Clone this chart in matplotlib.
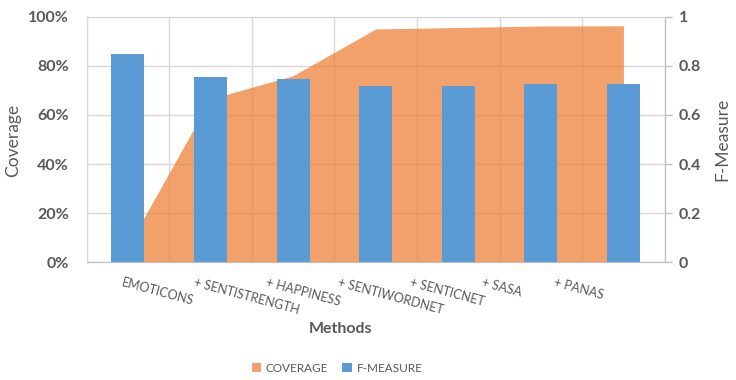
"""Coverage vs F-Measure of combined sentiment methods (area + column combo)."""

import matplotlib

matplotlib.use("Agg")
import matplotlib.pyplot as plt
import numpy as np
from matplotlib.patches import Patch

# values
METHODS = ["EMOTICONS", "+ SENTISTRENGTH", "+ HAPPINESS", "+ SENTIWORDNET",
           "+ SENTICNET", "+ SASA", "+ PANAS"]
COVERAGE = [6.5, 66.5, 76.0, 95.0, 95.6, 96.2, 96.3]
F_MEASURE = [0.848, 0.754, 0.746, 0.718, 0.718, 0.726, 0.726]

ORANGE = "#ED7D31"
BLUE = "#5B9BD5"
GRID = "#D9D9D9"
TEXT = "#595959"
FONT = ["Lato", "DejaVu Sans"]

plt.rcParams["font.family"] = FONT

fig = plt.figure(figsize=(7.36, 3.80), dpi=100)
ax = fig.add_axes([86.7 / 736, 1 - 262.3 / 380, (664.7 - 86.7) / 736, (262.3 - 16.7) / 380])
ax2 = ax.twinx()

x = np.arange(len(METHODS))

# coverage area on the primary axis, gridlines show faintly through it
ax.fill_between(x, COVERAGE, 0, color=ORANGE, alpha=0.72, linewidth=0, zorder=2)
ax.set_ylim(0, 100)
ax.set_xlim(-0.5, len(METHODS) - 0.5)
ax.set_yticks(np.arange(0, 101, 20))
ax.set_yticklabels([f"{v}%" for v in range(0, 101, 20)])
ax.set_axisbelow(True)
ax.grid(True, axis="both", color=GRID, linewidth=1.0, zorder=0)

# gridlines at category boundaries, labels shifted like the source chart
ax.set_xticks(np.arange(len(METHODS) + 1) - 0.5)
ax.set_xticklabels([])
ax.tick_params(axis="x", which="major", length=0)
label_pos = -0.05 + 0.872 * x
ax.set_xticks(label_pos, minor=True)
ax.set_xticklabels(METHODS, minor=True, rotation=-15, ha="left", va="top",
                   rotation_mode="anchor", fontsize=9, color=TEXT)
ax.tick_params(axis="x", which="minor", length=0, pad=10)
ax.tick_params(axis="y", length=0, pad=13, labelsize=11.5, labelcolor=TEXT)
for lab in ax.get_yticklabels():
    lab.set_fontweight("bold")

# F-measure columns on the secondary axis
ax2.bar(x, F_MEASURE, width=0.4, color=BLUE, zorder=3)
ax2.set_ylim(0, 1)
ax2.set_yticks(np.arange(0, 1.01, 0.2))
ax2.set_yticklabels(["0", "0.2", "0.4", "0.6", "0.8", "1"])
ax2.tick_params(axis="y", length=5, width=1, color="#BFBFBF", pad=5,
                labelsize=11.5, labelcolor=TEXT)
for lab in ax2.get_yticklabels():
    lab.set_fontweight("bold")

for a in (ax, ax2):
    a.spines["top"].set_color(GRID)
    a.spines["left"].set_color(GRID)
    a.spines["bottom"].set_color("#BFBFBF")
    a.spines["right"].set_color("#BFBFBF")

fig.text(13 / 736, 1 - 140 / 380, "Coverage", rotation=90, ha="center", va="center",
         fontsize=12.5, color=TEXT)
fig.text(722 / 736, 1 - 139 / 380, "F-Measure", rotation=90, ha="center", va="center",
         fontsize=12.5, color=TEXT)
fig.text(340 / 736, 1 - 329 / 380, "Methods", ha="center", va="center",
         fontsize=11.5, fontweight="bold", color=TEXT)

handles = [Patch(facecolor=ORANGE, alpha=0.72, edgecolor="none"),
           Patch(facecolor=BLUE, edgecolor="none")]
fig.legend(handles, ["COVERAGE", "F-MEASURE"], loc="center", ncol=2,
           bbox_to_anchor=(337 / 736, 1 - 368 / 380), frameon=False,
           fontsize=8.5, labelcolor=TEXT, handlelength=0.8, handleheight=0.8,
           handletextpad=0.4, columnspacing=1.2)

fig.savefig("out.png", dpi=100)
